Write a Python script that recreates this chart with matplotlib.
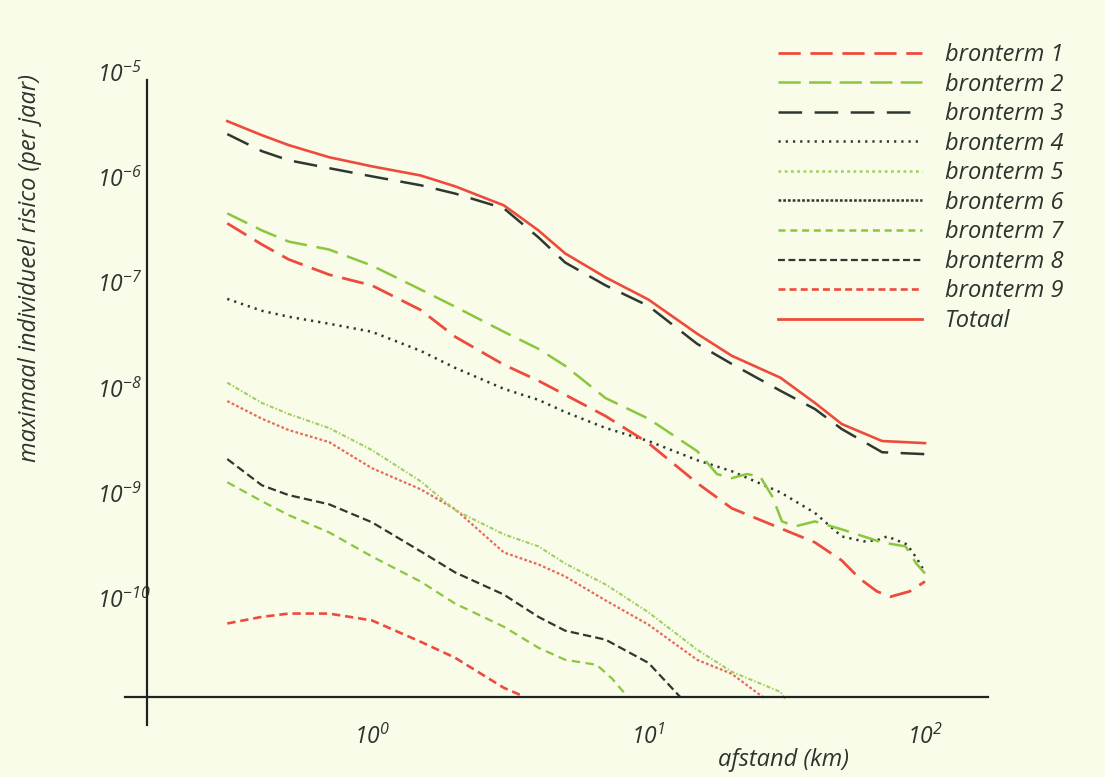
import numpy as np
import matplotlib.pyplot as plt
from matplotlib.lines import Line2D

plt.rcParams['font.family'] = ['Open Sans', 'DejaVu Sans']
plt.rcParams['mathtext.fontset'] = 'custom'
plt.rcParams['mathtext.it'] = 'Open Sans:italic'
plt.rcParams['mathtext.rm'] = 'Open Sans:italic'
plt.rcParams['lines.scale_dashes'] = False

# distances (km) and risk values
x_grid = [0.3, 0.4, 0.5, 0.7, 1, 1.5, 2, 3, 4, 5, 7, 10, 15, 20, 30, 40, 50, 70, 100]

totaal = [3.41e-6, 2.51e-6, 2.02e-6, 1.55e-6, 1.27e-6, 1.04e-6, 8.2e-7, 5.41e-7, 3.13e-7, 1.89e-7,
          1.12e-7, 6.9e-8, 3.27e-8, 2.02e-8, 1.25e-8, 7.2e-9, 4.54e-9, 3.13e-9, 2.99e-9]

b3 = [2.57e-6, 1.77e-6, 1.45e-6, 1.22e-6, 1.02e-6, 8.4e-7, 7.0e-7, 5.07e-7, 2.69e-7, 1.55e-7,
      9.4e-8, 6.0e-8, 2.62e-8, 1.69e-8, 9.4e-9, 6.3e-9, 4.07e-9, 2.45e-9, 2.35e-9]

b1_x = [0.3, 0.4, 0.5, 0.7, 1, 1.5, 2, 3, 4, 5, 7, 10, 15, 20, 30, 40, 50, 58, 67, 75, 88, 100]
b1 = [3.65e-7, 2.3e-7, 1.66e-7, 1.19e-7, 9.4e-8, 5.5e-8, 3.06e-8, 1.66e-8, 1.17e-8, 8.6e-9, 5.4e-9,
      2.99e-9, 1.25e-9, 7.2e-10, 4.65e-10, 3.41e-10, 2.3e-10, 1.55e-10, 1.17e-10, 1.04e-10, 1.17e-10, 1.45e-10]

b2_x = [0.3, 0.4, 0.5, 0.7, 1, 1.5, 2, 3, 4, 5, 7, 10, 15, 17.7, 20, 22.7, 25.3, 28, 30.4, 34, 40,
        50, 70, 85, 93, 100]
b2 = [4.54e-7, 3.13e-7, 2.45e-7, 2.06e-7, 1.45e-7, 8.6e-8, 5.9e-8, 3.41e-8, 2.35e-8, 1.62e-8, 8.0e-9,
      5.1e-9, 2.51e-9, 1.52e-9, 1.39e-9, 1.52e-9, 1.45e-9, 9.4e-10, 5.4e-10, 4.85e-10, 5.4e-10,
      4.54e-10, 3.41e-10, 3.13e-10, 2.15e-10, 1.73e-10]

b4_x = [0.3, 0.4, 0.5, 0.7, 1, 1.5, 2, 3, 4, 5, 7, 10, 15, 20, 30, 40, 50, 60, 67, 73, 86, 93.5, 100]
b4 = [7.0e-8, 5.4e-8, 4.74e-8, 4.07e-8, 3.41e-8, 2.25e-8, 1.55e-8, 9.8e-9, 7.7e-9, 5.9e-9, 4.16e-9,
      3.13e-9, 2.06e-9, 1.62e-9, 1.02e-9, 6.5e-10, 3.89e-10, 3.49e-10, 3.57e-10, 3.89e-10, 3.27e-10,
      2.4e-10, 1.77e-10]

b5_x = [0.3, 0.4, 0.5, 0.7, 1, 1.5, 2, 3, 4, 5, 7, 10, 15, 20, 30, 31.2]
b5 = [1.12e-8, 7.2e-9, 5.65e-9, 4.16e-9, 2.57e-9, 1.3e-9, 6.9e-10, 4.07e-10, 3.13e-10, 2.15e-10,
      1.36e-10, 7.4e-11, 3.27e-11, 2.02e-11, 1.3e-11, 1.12e-11]

b6_x = [0.3, 0.4, 0.5, 0.7, 1, 1.5, 2, 3, 4, 5, 7, 10, 15, 20, 26.4]
b6 = [7.5e-9, 5.1e-9, 3.98e-9, 3.06e-9, 1.73e-9, 1.09e-9, 7.05e-10, 2.74e-10, 2.11e-10, 1.62e-10,
      9.6e-11, 5.65e-11, 2.62e-11, 1.93e-11, 1.12e-11]

b7_x = [0.3, 0.4, 0.5, 0.7, 1, 1.5, 2, 3, 4, 5, 6.5, 7.4, 8.4]
b7 = [1.27e-9, 8.4e-10, 6.2e-10, 4.25e-10, 2.51e-10, 1.45e-10, 8.95e-11, 5.4e-11, 3.41e-11, 2.62e-11,
      2.35e-11, 1.73e-11, 1.17e-11]

b8_x = [0.3, 0.4, 0.5, 0.7, 1, 1.5, 2, 3, 4, 5, 7, 10, 13]
b8 = [2.11e-9, 1.19e-9, 9.6e-10, 7.85e-10, 5.3e-10, 2.81e-10, 1.77e-10, 1.09e-10, 6.7e-11, 4.95e-11,
      4.07e-11, 2.45e-11, 1.17e-11]

b9_x = [0.3, 0.4, 0.5, 0.7, 1, 1.5, 2, 3, 3.43]
b9 = [5.8e-11, 6.7e-11, 7.2e-11, 7.2e-11, 6.2e-11, 3.89e-11, 2.74e-11, 1.42e-11, 1.22e-11]

x_ticks = [1, 10, 100]
x_labels = [r'$10^{0}$', r'$10^{1}$', r'$10^{2}$']
y_ticks = [1e-5, 1e-6, 1e-7, 1e-8, 1e-9, 1e-10]
y_labels = [r'$10^{-5}$', r'$10^{-6}$', r'$10^{-7}$', r'$10^{-8}$', r'$10^{-9}$', r'$10^{-10}$']

red = '#ee4b3c'
green = '#8cc63f'
lgreen = '#9fcf5c'
dark = '#2e3832'
txt = '#2b342e'
bg = '#f8fce8'

fig = plt.figure(figsize=(11.05, 7.77), dpi=100, facecolor=bg)
ax = fig.add_axes([125 / 1105, 1 - 725 / 777, (988 - 125) / 1105, (725 - 68) / 777])
ax.set_facecolor(bg)
ax.set_xscale('log')
ax.set_yscale('log')
ax.set_xlim(0.128, 169)
ax.set_ylim(6.3e-12, 1.09e-5)

# (x, y, colour, dashes, linewidth) for each curve
curves = [
    (b9_x, b9, red, (6, 3.5), 1.9),
    (b8_x, b8, dark, (6, 3), 1.6),
    (b7_x, b7, green, (6, 4), 1.6),
    (b6_x, b6, '#e86a5c', (2, 1.6), 1.6),
    (b5_x, b5, lgreen, (3, 1.5, 1, 1.5), 1.5),
    (b4_x, b4, dark, (1.6, 3.6), 1.8),
    (b1_x, b1, red, (16, 7), 2.0),
    (b2_x, b2, green, (16, 7), 1.8),
    (x_grid, b3, dark, (17, 9), 1.8),
]
for xs, ys, c, d, lw in curves:
    ax.plot(xs, ys, color=c, dashes=d, lw=lw, solid_capstyle='butt')
ax.plot(x_grid, totaal, color=red, lw=1.9)

for side in ['top', 'right']:
    ax.spines[side].set_visible(False)
ax.spines['left'].set_position(('data', 0.154))
ax.spines['bottom'].set_position(('data', 1.17e-11))
ax.spines['left'].set_bounds(6.3e-12, 8.4e-6)
for side in ['left', 'bottom']:
    ax.spines[side].set_linewidth(1.6)
    ax.spines[side].set_color('#1e2420')

ax.minorticks_off()
ax.set_xticks(x_ticks)
ax.set_xticklabels(x_labels)
ax.set_yticks(y_ticks)
ax.set_yticklabels(y_labels)
ax.tick_params(axis='x', length=0, pad=20, labelsize=16.5, labelcolor=txt)
ax.tick_params(axis='y', length=0, pad=36, labelsize=16.5, labelcolor=txt)
for lab in ax.get_yticklabels():
    lab.set_horizontalalignment('left')

fig.text(30 / 1105, 1 - 268 / 777, 'maximaal individueel risico (per jaar)', rotation=90,
         ha='center', va='center', fontsize=17, style='italic', color=txt)
fig.text(784 / 1105, 1 - 760 / 777, 'afstand (km)', ha='center', va='center',
         fontsize=17, style='italic', color=txt)

handles = [
    Line2D([], [], color=red, dashes=(16, 7), lw=2.0),
    Line2D([], [], color=green, dashes=(16, 6), lw=1.8),
    Line2D([], [], color=dark, dashes=(17, 9), lw=1.8),
    Line2D([], [], color=dark, dashes=(1.6, 3.6), lw=1.8),
    Line2D([], [], color=lgreen, dashes=(2, 2.5), lw=1.8),
    Line2D([], [], color=dark, dashes=(2, 1.4), lw=1.8),
    Line2D([], [], color=green, dashes=(5, 3.5), lw=1.8),
    Line2D([], [], color=dark, dashes=(5, 2.5), lw=1.6),
    Line2D([], [], color=red, dashes=(5, 3), lw=1.9),
    Line2D([], [], color=red, lw=2.0),
]
labels = ['bronterm 1', 'bronterm 2', 'bronterm 3', 'bronterm 4', 'bronterm 5',
          'bronterm 6', 'bronterm 7', 'bronterm 8', 'bronterm 9', 'Totaal']
leg = fig.legend(handles, labels, loc='upper left', bbox_to_anchor=(778 / 1105, 1 - 43 / 777),
                 frameon=False, prop={'style': 'italic', 'size': 17}, handlelength=6.1,
                 handletextpad=0.97, labelspacing=0.235, borderpad=0, borderaxespad=0)
for t in leg.get_texts():
    t.set_color(txt)

fig.savefig('out.png', dpi=100, facecolor=bg)
